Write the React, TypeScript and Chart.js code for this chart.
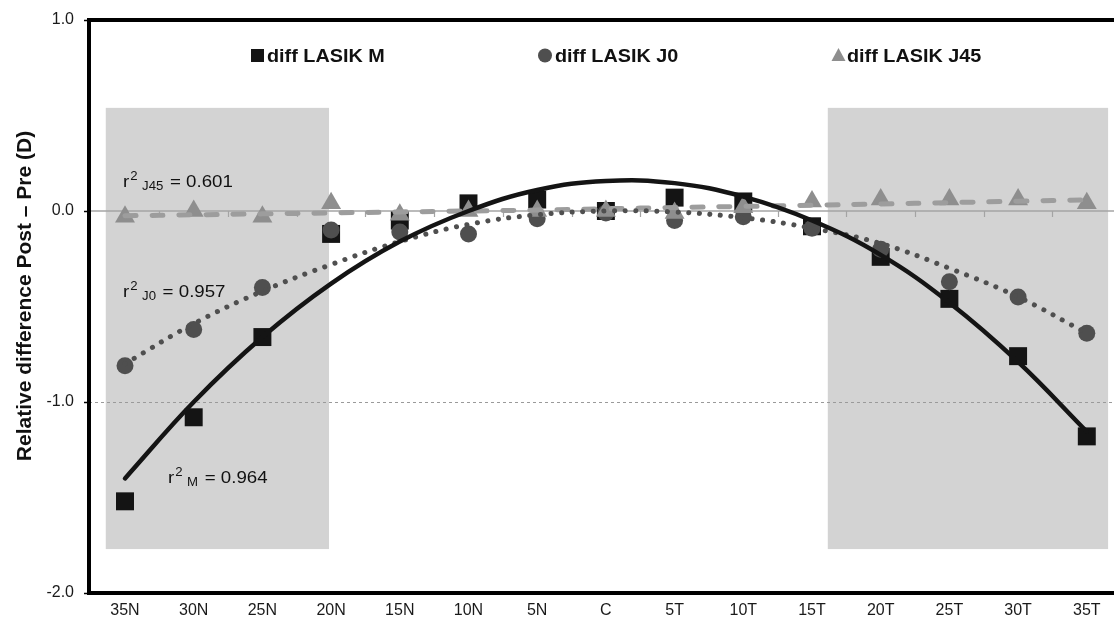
import React, { useEffect, useRef } from 'react';
import { Chart, registerables } from 'chart.js';

Chart.register(...registerables);

const FONT = '"Liberation Sans", Arial, Helvetica, sans-serif';

// ---- data ----
const categories = ['35N', '30N', '25N', '20N', '15N', '10N', '5N', 'C', '5T', '10T', '15T', '20T', '25T', '30T', '35T'];
const diffM = [-1.52, -1.08, -0.66, -0.12, -0.05, 0.04, 0.06, 0.0, 0.07, 0.05, -0.08, -0.24, -0.46, -0.76, -1.18];
const diffJ0 = [-0.81, -0.62, -0.40, -0.10, -0.11, -0.12, -0.04, -0.01, -0.05, -0.03, -0.09, -0.20, -0.37, -0.45, -0.64];
const diffJ45 = [-0.03, 0.0, -0.03, 0.04, -0.02, 0.0, 0.0, 0.0, -0.01, 0.02, 0.05, 0.06, 0.06, 0.06, 0.04];
const trendM = [-1.40, -1.00, -0.66, -0.38, -0.16, 0.0, 0.11, 0.157, 0.146, 0.075, -0.05, -0.23, -0.48, -0.79, -1.155];
const trendJ0 = [-0.80, -0.59, -0.42, -0.28, -0.16, -0.07, -0.02, 0.0, -0.005, -0.035, -0.09, -0.17, -0.30, -0.45, -0.64];
const trendJ45 = [-0.025, -0.02, -0.015, -0.01, -0.005, 0.0, 0.005, 0.012, 0.018, 0.024, 0.03, 0.037, 0.044, 0.051, 0.058];
const yTicks = [-2, -1, 0, 1];
const seriesNames = ['diff LASIK M', 'diff LASIK J0', 'diff LASIK J45'];
const r2Labels = [
  { sub: 'J45', value: '0.601' },
  { sub: 'J0', value: '0.957' },
  { sub: 'M', value: '0.964' },
];
// shaded regions in data units: [xFrom, xTo] (category index), y range
const shadeRanges = [[-0.28, 2.97], [10.23, 14.31]];
const shadeTop = 0.54;
const shadeBottom = -1.77;

const pts = (arr: number[]) => arr.map((v, i) => ({ x: i, y: v }));

const C_M = '#141414';
const C_J0 = '#4f4f4f';
const C_J45 = '#8e8e8e';

function drawR2(ctx: CanvasRenderingContext2D, x: number, y: number, sub: string, val: string) {
  ctx.save();
  ctx.translate(x, y);
  ctx.scale(1.1, 1);
  ctx.fillStyle = '#111';
  ctx.textAlign = 'left';
  ctx.textBaseline = 'alphabetic';
  ctx.font = `17px ${FONT}`;
  ctx.fillText('r', 0, 0);
  let cx = ctx.measureText('r').width + 1;
  ctx.font = `12px ${FONT}`;
  ctx.fillText('2', cx, -7);
  cx += ctx.measureText('2').width + 4;
  ctx.fillText(sub, cx, 3);
  cx += ctx.measureText(sub).width + 6;
  ctx.font = `17px ${FONT}`;
  ctx.fillText('= ' + val, cx, 0);
  ctx.restore();
}

const customPlugin = {
  id: 'custom',
  beforeDatasetsDraw(chart: any) {
    const { ctx, chartArea, scales } = chart;
    const x = scales.x;
    const y = scales.y;
    ctx.save();
    // shaded boxes
    ctx.fillStyle = '#d3d3d3';
    for (const [a, b] of shadeRanges) {
      const x0 = x.getPixelForValue(a);
      const x1 = x.getPixelForValue(b);
      const y0 = y.getPixelForValue(shadeTop);
      const y1 = y.getPixelForValue(shadeBottom);
      ctx.fillRect(x0, y0, x1 - x0, y1 - y0);
    }
    // -1 dotted line
    ctx.strokeStyle = '#9a9a9a';
    ctx.lineWidth = 1;
    ctx.setLineDash([3, 3]);
    const ym1 = Math.round(y.getPixelForValue(-1)) + 0.5;
    ctx.beginPath();
    ctx.moveTo(chartArea.left, ym1);
    ctx.lineTo(chartArea.right, ym1);
    ctx.stroke();
    ctx.setLineDash([]);
    // zero line
    const y0 = y.getPixelForValue(0);
    ctx.strokeStyle = '#a4a4a4';
    ctx.lineWidth = 1.5;
    ctx.beginPath();
    ctx.moveTo(chartArea.left, y0);
    ctx.lineTo(chartArea.right, y0);
    ctx.stroke();
    // tick marks between categories on the zero line
    ctx.lineWidth = 1.2;
    for (let i = 0; i < categories.length - 1; i++) {
      const px = Math.round(x.getPixelForValue(i + 0.5)) + 0.5;
      ctx.beginPath();
      ctx.moveTo(px, y0);
      ctx.lineTo(px, y0 + 6);
      ctx.stroke();
    }
    ctx.restore();
  },
  afterDatasetsDraw(chart: any) {
    const { ctx } = chart;
    // r² annotations
    drawR2(ctx, 123, 187, r2Labels[0].sub, r2Labels[0].value);
    drawR2(ctx, 123, 297, r2Labels[1].sub, r2Labels[1].value);
    drawR2(ctx, 168, 483, r2Labels[2].sub, r2Labels[2].value);

    // legend
    ctx.save();
    const legendY = 62;
    const items = [
      { mx: 251, tx: 267, color: C_M, shape: 'rect' },
      { mx: 538, tx: 555, color: C_J0, shape: 'circle' },
      { mx: 832, tx: 847, color: C_J45, shape: 'triangle' },
    ];
    items.forEach((it, k) => {
      ctx.fillStyle = it.color;
      if (it.shape === 'rect') {
        ctx.fillRect(it.mx, 49, 13, 13);
      } else if (it.shape === 'circle') {
        ctx.beginPath();
        ctx.arc(it.mx + 7, 55.5, 7, 0, Math.PI * 2);
        ctx.fill();
      } else {
        ctx.beginPath();
        ctx.moveTo(it.mx + 6.5, 48);
        ctx.lineTo(it.mx + 13.5, 61);
        ctx.lineTo(it.mx - 0.5, 61);
        ctx.closePath();
        ctx.fill();
      }
      ctx.save();
      ctx.translate(it.tx, legendY);
      ctx.scale(1.1, 1);
      ctx.fillStyle = '#111';
      ctx.font = `bold 18px ${FONT}`;
      ctx.textAlign = 'left';
      ctx.textBaseline = 'alphabetic';
      ctx.fillText(seriesNames[k], 0, 0);
      ctx.restore();
    });
    ctx.restore();
  },
  afterDraw(chart: any) {
    const { ctx, chartArea } = chart;
    ctx.save();
    // frame
    ctx.strokeStyle = '#000';
    ctx.lineWidth = 4;
    ctx.beginPath();
    ctx.moveTo(chartArea.right + 10, chartArea.top);
    ctx.lineTo(chartArea.left, chartArea.top);
    ctx.lineTo(chartArea.left, chartArea.bottom);
    ctx.lineTo(chartArea.right + 10, chartArea.bottom);
    ctx.stroke();
    // y title
    ctx.translate(25, 296);
    ctx.rotate(-Math.PI / 2);
    ctx.fillStyle = '#111';
    ctx.font = `bold 21px ${FONT}`;
    ctx.textAlign = 'center';
    ctx.textBaseline = 'middle';
    ctx.fillText('Relative difference Post \u2013 Pre (D)', 0, 0);
    ctx.restore();
  },
};

export default function App() {
  const ref = useRef<HTMLCanvasElement>(null);

  useEffect(() => {
    if (!ref.current) return;
    const chart = new Chart(ref.current, {
      type: 'line',
      data: {
        datasets: [
          {
            label: 'trend M',
            data: pts(trendM),
            borderColor: C_M,
            borderWidth: 4.5,
            pointRadius: 0,
            tension: 0.4,
            borderCapStyle: 'round',
            fill: false,
            order: 1,
          },
          {
            label: 'trend J0',
            data: pts(trendJ0),
            borderColor: C_J0,
            borderWidth: 5,
            borderDash: [0.1, 10.5],
            borderCapStyle: 'round',
            pointRadius: 0,
            tension: 0.4,
            fill: false,
            order: 2,
          },
          {
            label: 'trend J45',
            data: pts(trendJ45),
            borderColor: '#9d9d9d',
            borderWidth: 5,
            borderDash: [11, 16],
            borderCapStyle: 'round',
            pointRadius: 0,
            tension: 0.4,
            fill: false,
            order: 3,
          },
          {
            label: seriesNames[2],
            data: pts(diffJ45),
            showLine: false,
            pointStyle: 'triangle',
            pointRadius: 11.5,
            pointBackgroundColor: C_J45,
            pointBorderColor: C_J45,
            pointBorderWidth: 0,
            order: 4,
          },
          {
            label: seriesNames[1],
            data: pts(diffJ0),
            showLine: false,
            pointStyle: 'circle',
            pointRadius: 8.5,
            pointBackgroundColor: C_J0,
            pointBorderColor: C_J0,
            pointBorderWidth: 0,
            order: 5,
          },
          {
            label: seriesNames[0],
            data: pts(diffM),
            showLine: false,
            pointStyle: 'rect',
            pointRadius: 12.7,
            pointBackgroundColor: C_M,
            pointBorderColor: C_M,
            pointBorderWidth: 0,
            order: 6,
          },
        ],
      },
      options: {
        responsive: false,
        animation: false,
        devicePixelRatio: 1,
        events: [],
        layout: { autoPadding: false, padding: { top: 20, right: 0, left: 0, bottom: 0 } },
        plugins: {
          legend: { display: false },
          tooltip: { enabled: false },
        },
        scales: {
          x: {
            type: 'linear',
            min: -0.524,
            max: 14.396,
            grid: { display: false },
            border: { display: false },
            afterBuildTicks: (s: any) => {
              s.ticks = categories.map((_, i) => ({ value: i }));
            },
            afterFit: (s: any) => {
              s.height = 26;
              s.paddingLeft = 0;
              s.paddingRight = 0;
            },
            ticks: {
              autoSkip: false,
              maxRotation: 0,
              padding: 0,
              color: '#1a1a1a',
              font: { family: FONT, size: 16 },
              callback: (v: any) => categories[v] ?? '',
            },
          },
          y: {
            min: -2,
            max: 1,
            afterBuildTicks: (s: any) => {
              s.ticks = yTicks.map((v) => ({ value: v }));
            },
            afterFit: (s: any) => {
              s.width = 89;
              s.paddingTop = 0;
              s.paddingBottom = 0;
            },
            grid: {
              color: 'transparent',
              tickColor: '#000',
              tickLength: 5,
              tickWidth: 1.5,
              drawTicks: true,
            },
            border: { display: false },
            ticks: {
              padding: 10,
              color: '#1a1a1a',
              font: { family: FONT, size: 16 },
              callback: (v: any) => Number(v).toFixed(1),
            },
          },
        },
      },
      plugins: [customPlugin],
    } as any);
    return () => chart.destroy();
  }, []);

  return (
    <div style={{ position: 'fixed', left: 0, top: 0, width: 1114, height: 619, background: '#fff' }}>
      <canvas ref={ref} width={1114} height={619} style={{ display: 'block', width: 1114, height: 619 }} />
    </div>
  );
}
